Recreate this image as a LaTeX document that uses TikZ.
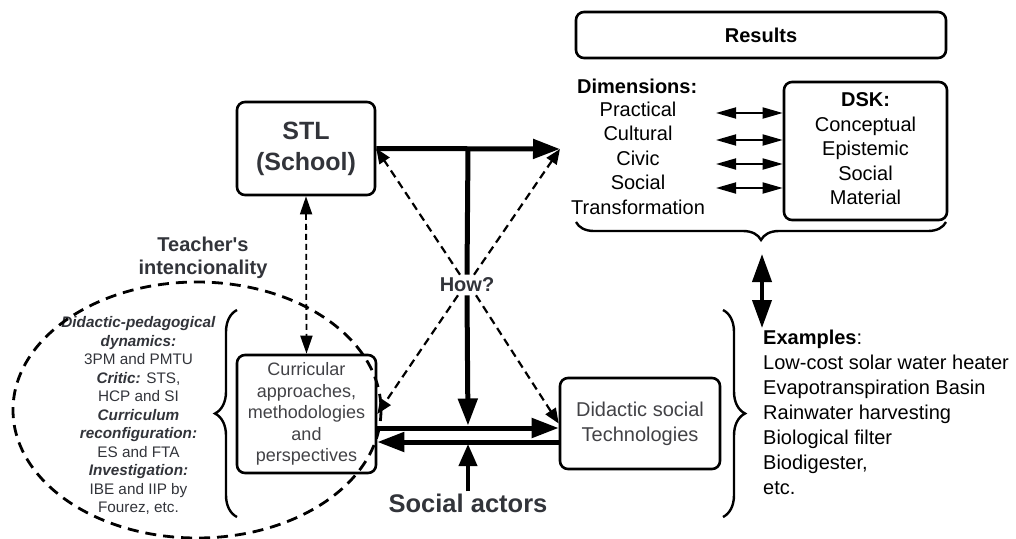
\documentclass[tikz,border=0pt]{standalone}
\usepackage{fontspec}
\setmainfont{Liberation Sans}
\usetikzlibrary{arrows.meta,decorations.pathreplacing,calc}
\definecolor{ink}{RGB}{50,52,58}
\definecolor{inkb}{RGB}{66,66,70}
\newcommand\setfs[2]{\fontsize{#1}{#2}\selectfont}
\begin{document}
\begin{tikzpicture}[x=1pt,y=-1pt,
  box/.style={draw, line width=2.6pt, rounded corners=8pt, inner sep=0pt, align=center},
  bigarrow/.style={line width=5pt, -{Triangle[length=27pt,width=19pt]}},
  uparrow/.style={line width=4pt, -{Triangle[length=22pt,width=18pt]}},
  dasharrow/.style={line width=2.2pt, dash pattern=on 8pt off 5pt, -{Triangle[length=15pt,width=12pt]}},
  dashdbl/.style={line width=1.8pt, dash pattern=on 6pt off 4pt, {Triangle[length=18pt,width=12pt]}-{Triangle[length=18pt,width=12pt]}},
  smalldbl/.style={line width=1.8pt, {Triangle[length=20pt,width=11pt]}-{Triangle[length=20pt,width=11pt]}},
  vdbl/.style={line width=4pt, {Triangle[length=28pt,width=19pt]}-{Triangle[length=28pt,width=19pt]}},
  bracestyle/.style={line width=2.4pt, decorate, decoration={brace, amplitude=#1, aspect=0.5}},
  ellstyle/.style={line width=2.8pt, dash pattern=on 11pt off 7pt}
]
\useasboundingbox (0,0) rectangle (1016,538);

% Boxes
\node[box, minimum width=370pt, minimum height=46pt, font=\bfseries\setfs{20}{24}] (res) at (761,35) {Results};
\node[box, minimum width=163pt, minimum height=138pt, font=\setfs{20}{24.5}] (dsk) at (865.5,151)
  {\raisebox{2.5pt}{\begin{tabular}{@{}c@{}}\textbf{DSK:}\\Conceptual\\Epistemic\\Social\\Material\end{tabular}}};
\node[box, minimum width=138pt, minimum height=93pt, text=ink, font=\bfseries\setfs{25}{31}] (stl) at (306,148.5)
  {STL\\(School)};
\node[box, minimum width=139pt, minimum height=118pt, text=inkb, font=\setfs{18}{21.6}] (cur) at (306.5,414)
  {Curricular\\approaches,\\methodologies\\and\\perspectives};
\node[box, minimum width=160pt, minimum height=91pt, text=inkb, font=\setfs{20}{25}] (did) at (640,423.5)
  {Didactic social\\Technologies};

% Text nodes
\node[anchor=west, inner sep=0pt, font=\bfseries\setfs{20}{24}] (dimh) at (577,86) {Dimensions:};
\node[align=center, inner sep=0pt, font=\setfs{20}{24.5}] (dims) at (638,158)
  {Practical\\Cultural\\Civic\\Social\\Transformation};
\node[anchor=west, align=left, inner sep=0pt, font=\setfs{20}{25}] (ex) at (763,412.5)
  {\textbf{Examples}:\\Low-cost solar water heater\\Evapotranspiration Basin\\Rainwater harvesting\\Biological filter\\Biodigester,\\etc.};
\node[align=center, inner sep=0pt, text=ink, font=\bfseries\setfs{20}{23}] (teach) at (203,258)
  {Teacher\textquotesingle s\\intencionality};
\node[align=center, inner sep=0pt, text=ink, font=\setfs{15.3}{18.5}] (lt) at (138.5,415.5)
  {\textbf{\textit{Didactic-pedagogical}}\\\textbf{\textit{dynamics:}}\\3PM and PMTU\\\textbf{\textit{Critic:}} STS,\\HCP and SI\\\textbf{\textit{Curriculum}}\\\textbf{\textit{reconfiguration:}}\\ES and FTA\\\textbf{\textit{Investigation:}}\\IBE and IIP by\\Fourez, etc.};
\node[inner sep=3pt, text=ink, font=\bfseries\setfs{20}{24}] (how) at (467,285) {How?};
\node[inner sep=2pt, text=ink, font=\bfseries\setfs{25.5}{30}] (sa) at (468,503) {Social actors};

% Coordinates
\coordinate (T) at (468,148);
\coordinate (R) at (560,149);
\coordinate (m1) at (468,428);
\coordinate (m2) at (468,442);
\coordinate (d1) at (716,113);
\coordinate (d2) at (716,140);
\coordinate (d3) at (716,164);
\coordinate (d4) at (716,188);
\coordinate (bt) at (762,254);
\coordinate (eb) at (762,328);

% Ellipse
\draw[ellstyle] (197,410) ellipse [x radius=184, y radius=128];

% Braces
\draw[bracestyle=18pt] (946,222) -- (576,222);
\draw[bracestyle=22pt] (237,517) -- (237,310);
\draw[bracestyle=22pt] (723,310) -- (723,517);

% Thick connectors
\draw[bigarrow] (stl.east) -- (R);
\draw[line width=5pt] (T) -- (how.north);
\draw[bigarrow, shorten >=2.5pt] (how.south) -- (m1);
\draw[bigarrow] (cur.east |- m1) -- (did.west |- m1);
\draw[bigarrow] (did.west |- m2) -- (cur.east |- m2);
\draw[uparrow, shorten >=2pt] (sa.north) -- (m2);

% Dashed connectors
\draw[dasharrow] ([xshift=-7pt]how.north) -- (stl.east);
\draw[dasharrow] ([xshift=7pt]how.north) -- (R);
\draw[dasharrow] ([xshift=-9pt]how.south) -- (cur.east);
\draw[dasharrow] ([xshift=9pt]how.south) -- (did.west);
\draw[dashdbl] (stl.south) -- (cur.north);

% Dimension <-> DSK
\draw[smalldbl] (d1) -- (dsk.west |- d1);
\draw[smalldbl] (d2) -- (dsk.west |- d2);
\draw[smalldbl] (d3) -- (dsk.west |- d3);
\draw[smalldbl] (d4) -- (dsk.west |- d4);

% Results <-> Examples
\draw[vdbl] (bt) -- (eb);
\end{tikzpicture}
\end{document}
